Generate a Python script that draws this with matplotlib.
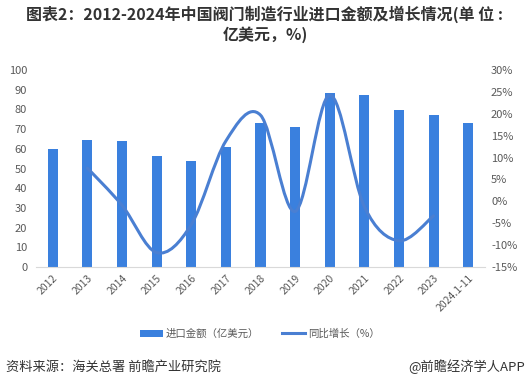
import matplotlib
matplotlib.use("Agg")
import matplotlib.pyplot as plt
from matplotlib.path import Path
from matplotlib.patches import PathPatch
from matplotlib.lines import Line2D
from matplotlib.patches import Patch
import numpy as np

plt.rcParams['font.family'] = ['Noto Sans CJK SC', 'DejaVu Sans']

years = ['2012', '2013', '2014', '2015', '2016', '2017', '2018', '2019',
         '2020', '2021', '2022', '2023', '2024.1-11']
imports = [60.1, 64.7, 64.1, 56.6, 53.6, 61.0, 73.0, 71.3, 88.6, 87.5, 79.6, 77.0, 73.3]
growth = [None, 7.6, -0.9, -11.7, -5.3, 13.8, 19.7, -2.3, 24.3, -1.2, -9.0, -3.3, None]

left_ticks = list(range(0, 101, 10))
right_ticks = list(range(-15, 31, 5))

bar_color = '#3a80de'
line_color = '#4a7fd2'
tick_color = '#595959'

fig = plt.figure(figsize=(5.30, 3.87), dpi=100)
ax = fig.add_axes([0.067, 0.310, 0.849, 0.509])
x = np.arange(len(years))
ax.bar(x, imports, width=0.29, color=bar_color, zorder=2)
ax.set_xlim(-0.5, len(years) - 0.5)
ax.set_ylim(0, 100)
ax.set_yticks(left_ticks)
ax.set_yticklabels([str(t) for t in left_ticks])
ax.set_xticks(x)
ax.set_xticklabels(years, rotation=45, ha='right', va='top', rotation_mode='anchor')
for s in ['top', 'right', 'left']:
    ax.spines[s].set_visible(False)
ax.spines['bottom'].set_color('#d9d9d9')
ax.tick_params(axis='both', length=0, colors=tick_color, labelsize=8)
ax.tick_params(axis='y', pad=6)
ax.tick_params(axis='x', pad=4, labelsize=7.5)

ax2 = ax.twinx()
ax2.set_ylim(-15, 30)
ax2.set_yticks(right_ticks)
ax2.set_yticklabels([f'{t}%' for t in right_ticks])
for s in ax2.spines.values():
    s.set_visible(False)
ax2.tick_params(axis='y', length=0, colors=tick_color, labelsize=8, pad=4)

# smooth curve through growth points (Bezier, Catmull-Rom style)
pts = [(i, g) for i, g in enumerate(growth) if g is not None]
P = np.array(pts, dtype=float)
verts = [tuple(P[0])]
codes = [Path.MOVETO]
n = len(P)
for i in range(n - 1):
    p0 = P[i - 1] if i > 0 else P[i]
    p1 = P[i]
    p2 = P[i + 1]
    p3 = P[i + 2] if i + 2 < n else P[i + 1]
    c1 = p1 + (p2 - p0) / 6.0
    c2 = p2 - (p3 - p1) / 6.0
    verts += [tuple(c1), tuple(c2), tuple(p2)]
    codes += [Path.CURVE4] * 3
path = Path(verts, codes)
ax2.add_patch(PathPatch(path, facecolor='none', edgecolor=line_color, lw=2.2,
                        capstyle='round', joinstyle='round', zorder=3))

fig.text(0.5, 0.962, '图表2：2012-2024年中国阀门制造行业进口金额及增长情况(单 位 :',
         ha='center', va='center', fontsize=11.5, fontweight='bold', color='#333333')
fig.text(0.5, 0.910, '亿美元，%)', ha='center', va='center', fontsize=11.5,
         fontweight='bold', color='#333333')

handles = [Patch(facecolor=bar_color, edgecolor='none'),
           Line2D([0], [0], color=line_color, lw=2.2)]
fig.legend(handles, ['进口金额（亿美元）', '同比增长（%）'], loc='center',
           bbox_to_anchor=(0.49, 0.137), ncol=2, frameon=False, fontsize=7.5,
           labelcolor='#595959', handlelength=2.2, handleheight=0.7,
           handletextpad=0.3, columnspacing=2.2)

fig.text(0.012, 0.052, '资料来源：海关总署 前瞻产业研究院', ha='left', va='center',
         fontsize=9.5, color='#333333')
fig.text(0.99, 0.052, '@前瞻经济学人APP', ha='right', va='center',
         fontsize=9.5, color='#333333')

fig.savefig('out.png', dpi=100)
